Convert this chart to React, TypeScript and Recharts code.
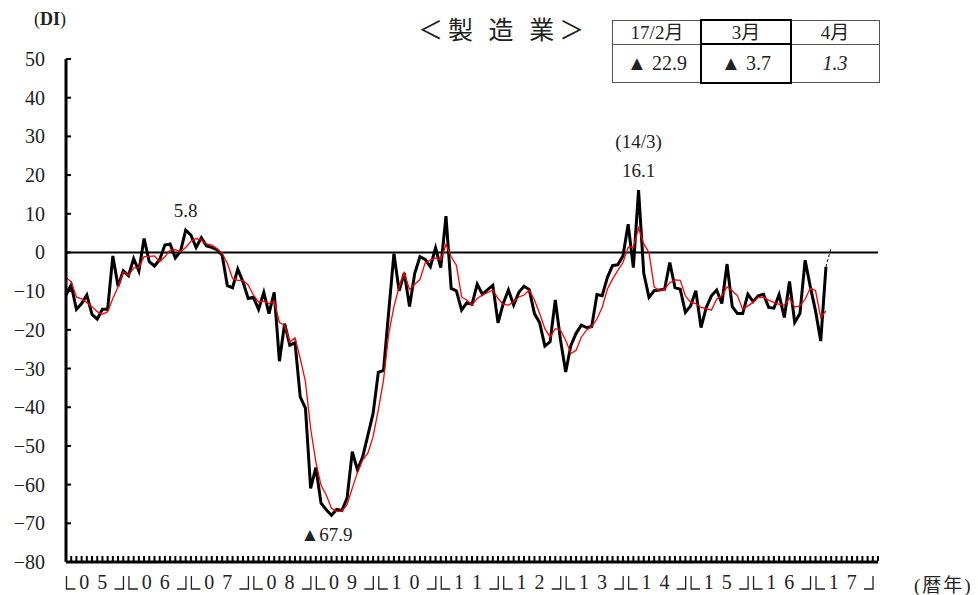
import React from "react";
import { Line, LineChart, ReferenceLine, XAxis, YAxis } from "recharts";

// monthly DI, 2005/1 .. 2017/3
const actual = [
  -11, -8.4, -14.7, -13.2, -11, -16, -17.2, -14.7, -14.7, -0.9, -8.7, -4.7,
  -6, -1.6, -4.8, 3.6, -2.4, -3.5, -1.8, 1.9, 2.2, -1.4, 0.3, 5.8,
  4.5, 1.3, 3.8, 1.7, 1.3, 0.7, -0.7, -8.6, -9.1, -4.3, -7.6, -11.9,
  -11.6, -14.7, -10.3, -15.8, -10.3, -28.1, -18.4, -24, -23.3, -37.3, -40.2, -61,
  -55.6, -64.8, -66.5, -67.9, -66.4, -66.7, -63.5, -51.5, -56.2, -52.8, -47.2, -41.6,
  -31, -30.5, -15.3, -0.3, -9.9, -5.3, -14, -5.4, -1.1, -1.8, -3.7, 1.2,
  -3.9, 9.4, -9.3, -9.9, -14.9, -13, -13.4, -8.2, -10.8, -9.6, -8.5, -18.2,
  -13.2, -9.7, -13.6, -10.3, -8.7, -9.6, -15.8, -18.2, -24.2, -23.1, -12.3, -22.6,
  -30.9, -24, -20.9, -18.8, -19.4, -19.2, -10.9, -11.2, -6.5, -3.4, -3.2, -0.9,
  7.3, -3.9, 16.1, -5.4, -11.6, -9.9, -9.7, -9.5, -2.6, -9.1, -9.5, -15.5,
  -13.8, -9.9, -19.4, -14.2, -11.2, -9.7, -13.2, -3, -14, -15.8, -15.8, -10.8,
  -12.7, -11.2, -10.8, -14.2, -14.4, -10.9, -16.8, -7.5, -18.1, -15.8, -2, -8.9,
  -15.1, -22.9, -3.7,
];

// smoothed series (red)
const trend = [
  -6.5, -7.6, -11.5, -12, -12.9, -14, -15.3, -16, -15.3, -11.9, -8.9, -5,
  -6, -4, -3.9, -1.1, -1, -0.9, -2.4, -1.1, 0.6, 0.7, 0.2, 1.3,
  2.9, 3.6, 3.2, 2.2, 1.9, 1, -0.3, -2.8, -6.7, -7.2, -7.2, -8.4,
  -11, -12.8, -12.6, -13.2, -12.6, -18.1, -18.8, -23.1, -22.1, -27.4, -33.4, -45.5,
  -54.1, -60.2, -62.7, -66.1, -66.9, -66.9, -65.2, -60.9, -56.9, -53.6, -51.9, -47.6,
  -40.7, -33, -21, -14, -8.9, -5.3, -9.6, -8.2, -7, -2.7, -2, -1.4,
  -2, 2.1, -1.1, -3.3, -11.5, -12.3, -13.6, -11.9, -11, -10.4, -9.7, -11.9,
  -13.4, -13.6, -12.8, -11.5, -11, -9.7, -12.3, -15.8, -19.7, -21.9, -19.7, -20.1,
  -22.7, -26.1, -25.3, -21.9, -20.1, -19.2, -17.2, -14.2, -9.5, -6.9, -4.7, -2.6,
  1.3, 1.3, 6.3, 2.2, 0, -8.9, -9.9, -9.5, -7.8, -7.1, -7.2, -11.2,
  -12.9, -13.2, -14.2, -14.5, -14.9, -12.1, -11.2, -8.9, -9.9, -11.2, -14.7, -13.8,
  -12.9, -11.6, -11.6, -12.3, -12.9, -13.4, -13.6, -11.8, -14.1, -13.8, -12.1, -9.2,
  -9.9, -16.8, -15.1,
];

const forecastApr = 1.3;
const years = ["05", "06", "07", "08", "09", "10", "11", "12", "13", "14", "15", "16", "17"];
const yTicks = [50, 40, 30, 20, 10, 0, -10, -20, -30, -40, -50, -60, -70, -80];
const peakMonths = [23, 51, 110];
const datedPeak = 110;
const tableHeads = ["17/2月", "3月", "4月"];
const tableValues = ["▲ 22.9", "▲ 3.7", "1.3"];

const last = actual.length - 1;
const data = actual.map((v, i) => ({
  m: i,
  actual: v,
  trend: trend[i],
  forecast: i === last ? v : null,
}));
data.push({ m: last + 1, actual: null as any, trend: null as any, forecast: forecastApr });

const monthTicks = Array.from({ length: years.length * 12 + 1 }, (_, i) => i);
const yearTicks = years.map((_, k) => k * 12 + 6);

const FONT = '"Liberation Serif", "Noto Sans CJK JP", serif';
const INK = "#222";

const fmt = (v: number) => (v < 0 ? "▲" : "") + Math.abs(v).toFixed(1);

function PeakLabel(props: any) {
  const { x, y, index, value } = props;
  if (!peakMonths.includes(index)) return null;
  if (value < 0) {
    return (
      <text x={x - 5} y={y + 26} textAnchor="middle" fontSize={19} fontFamily={FONT} fill={INK}>
        {fmt(value)}
      </text>
    );
  }
  const yr = String(2005 + Math.floor(index / 12)).slice(2);
  const mo = (index % 12) + 1;
  return (
    <g fontSize={19} fontFamily={FONT} fill={INK} textAnchor="middle">
      {index === datedPeak && (
        <text x={x} y={y - 42}>
          ({yr}/{mo})
        </text>
      )}
      <text x={x} y={y - 13}>
        {fmt(value)}
      </text>
    </g>
  );
}

function MonthTick(props: any) {
  const { x, y } = props;
  return <line x1={x} x2={x} y1={y - 1} y2={y - 6} stroke="#000" strokeWidth={2} />;
}

// year label with └ ┘ brackets marking the span of the year
function YearTick(props: any) {
  const { x, y, payload } = props;
  const label = years[(payload.value - 6) / 12];
  const half = 31.25;
  const base = y + 26;
  const top = base - 13;
  const l = x - half + 0.5;
  const r = x + half - 5;
  return (
    <g>
      <path d={`M${l},${top} V${base} H${l + 9}`} fill="none" stroke={INK} strokeWidth={1.3} />
      <path d={`M${r - 9},${base} H${r} V${top}`} fill="none" stroke={INK} strokeWidth={1.3} />
      <text y={base} fontSize={20} fontFamily={FONT} fill={INK} textAnchor="middle">
        <tspan x={x - 13}>{label[0]}</tspan>
        <tspan x={x + 5}>{label[1]}</tspan>
      </text>
    </g>
  );
}

function ValueTick(props: any) {
  const { x, y, payload } = props;
  const v = payload.value as number;
  return (
    <g>
      <text x={x - 21} y={y + 7} textAnchor="end" fontSize={20} fontFamily={FONT} fill={INK}>
        {v < 0 ? "−" + Math.abs(v) : v}
      </text>
      <line x1={x} x2={x + 5} y1={y} y2={y} stroke="#000" strokeWidth={2} />
    </g>
  );
}

const cellW = 89;
const tableLeft = 612;

export default function App() {
  return (
    <div style={{ position: "absolute", left: 0, top: 0, width: 978, height: 595, background: "#fff" }}>
      <LineChart width={978} height={595} data={data} margin={{ top: 59, right: 100, bottom: 0, left: 0 }}>
        <XAxis
          xAxisId="m"
          dataKey="m"
          type="number"
          domain={[0, 156]}
          ticks={monthTicks}
          interval={0}
          height={1}
          tickSize={0}
          tickMargin={0}
          axisLine={{ stroke: "#000", strokeWidth: 3 }}
          tickLine={false}
          tick={<MonthTick />}
        />
        <XAxis
          xAxisId="y"
          dataKey="m"
          type="number"
          domain={[0, 156]}
          ticks={yearTicks}
          interval={0}
          height={32}
          tickSize={0}
          tickMargin={0}
          axisLine={false}
          tickLine={false}
          tick={<YearTick />}
        />
        <YAxis
          type="number"
          domain={[-80, 50]}
          ticks={yTicks}
          interval={0}
          width={66}
          tickSize={0}
          tickMargin={0}
          axisLine={{ stroke: "#000", strokeWidth: 3 }}
          tickLine={false}
          tick={<ValueTick />}
        />
        <ReferenceLine xAxisId="m" y={0} stroke="#000" strokeWidth={2} />
        <Line
          xAxisId="m"
          dataKey="actual"
          stroke="#000"
          strokeWidth={3}
          dot={false}
          isAnimationActive={false}
          label={<PeakLabel />}
        />
        <Line
          xAxisId="m"
          dataKey="trend"
          stroke="#ff0000"
          strokeWidth={1.3}
          dot={false}
          isAnimationActive={false}
        />
        <Line
          xAxisId="m"
          dataKey="forecast"
          stroke="#000"
          strokeWidth={1}
          strokeDasharray="3 2"
          dot={false}
          isAnimationActive={false}
        />
      </LineChart>

      <div style={{ position: "absolute", left: 34, top: 9, fontFamily: FONT, fontSize: 18, color: INK }}>
        (<b>DI</b>)
      </div>
      <div
        style={{
          position: "absolute",
          left: 418,
          top: 10,
          fontFamily: '"Noto Sans CJK JP", sans-serif',
          fontSize: 25,
          letterSpacing: 5,
          color: INK,
          whiteSpace: "pre",
        }}
      >
        ＜製 造 業＞
      </div>
      <div
        style={{
          position: "absolute",
          left: 914,
          top: 570,
          fontFamily: FONT,
          fontSize: 19,
          letterSpacing: 2,
          color: INK,
        }}
      >
        (暦年)
      </div>

      {tableHeads.map((h, c) => (
        <React.Fragment key={h}>
          <div
            style={{
              position: "absolute",
              left: tableLeft + c * cellW,
              top: 20,
              width: cellW + 1,
              height: 25,
              boxSizing: "border-box",
              border: "1px solid #555",
              fontFamily: FONT,
              fontSize: 19,
              color: INK,
              textAlign: "center",
              lineHeight: "23px",
            }}
          >
            {h}
          </div>
          <div
            style={{
              position: "absolute",
              left: tableLeft + c * cellW,
              top: 44,
              width: cellW + 1,
              height: 39,
              boxSizing: "border-box",
              border: "1px solid #555",
              fontFamily: FONT,
              fontSize: 20,
              fontStyle: c === 2 ? "italic" : "normal",
              color: INK,
              textAlign: "center",
              lineHeight: "37px",
            }}
          >
            {tableValues[c]}
          </div>
        </React.Fragment>
      ))}
      <div
        style={{
          position: "absolute",
          left: tableLeft + cellW - 1,
          top: 19,
          width: cellW + 3,
          height: 65,
          boxSizing: "border-box",
          border: "2px solid #000",
        }}
      />
      <div
        style={{
          position: "absolute",
          left: tableLeft + cellW - 1,
          top: 43,
          width: cellW + 3,
          height: 2,
          background: "#000",
        }}
      />
    </div>
  );
}
